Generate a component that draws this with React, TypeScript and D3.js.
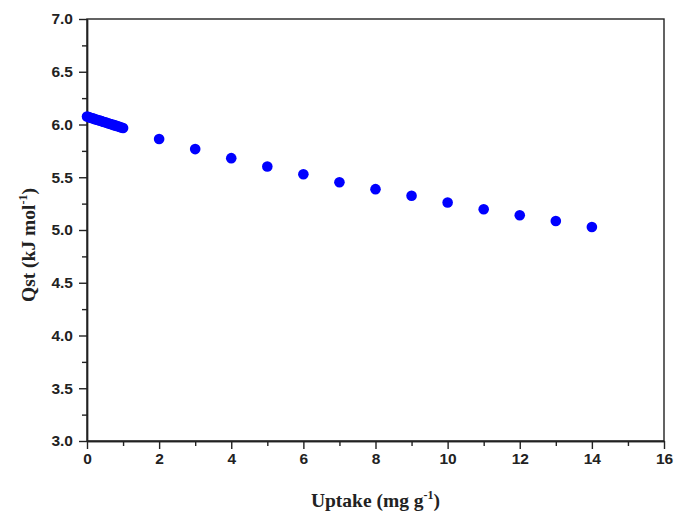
import React, { useEffect, useRef } from "react";
import { select, scaleLinear, axisBottom, axisLeft, range } from "d3";

const lowUptake = [
  0, 0.05, 0.1, 0.15, 0.2, 0.25, 0.3, 0.35, 0.4, 0.45, 0.5, 0.55, 0.6, 0.65,
  0.7, 0.75, 0.8, 0.85, 0.9, 0.95, 1.0,
];
const lowQst = [
  6.075, 6.07, 6.064, 6.059, 6.053, 6.048, 6.043, 6.037, 6.032, 6.026, 6.021,
  6.016, 6.01, 6.005, 5.999, 5.994, 5.989, 5.983, 5.978, 5.972, 5.967,
];
// the spaced out points
const highUptake = [2, 3, 4, 5, 6, 7, 8, 9, 10, 11, 12, 13, 14];
const highQst = [
  5.862, 5.767, 5.681, 5.602, 5.529, 5.453, 5.387, 5.324, 5.26, 5.197, 5.14,
  5.086, 5.029,
];

const xTicks = [0, 2, 4, 6, 8, 10, 12, 14, 16];
const yTicks = [3.0, 3.5, 4.0, 4.5, 5.0, 5.5, 6.0, 6.5, 7.0];

const W = 676;
const H = 518;
const margin = { left: 87, right: 12, top: 19, bottom: 77 };

function QstChart() {
  const svgRef = useRef(null);

  useEffect(() => {
    const svg = select(svgRef.current);
    svg.selectAll("*").remove();

    const x = scaleLinear()
      .domain([0, 16])
      .range([margin.left, W - margin.right]);
    const y = scaleLinear()
      .domain([3, 7])
      .range([H - margin.bottom, margin.top]);

    const points = [
      ...lowUptake.map((u, i) => ({ u, q: lowQst[i] })),
      ...highUptake.map((u, i) => ({ u, q: highQst[i] })),
    ];

    // frame top + right
    svg
      .append("rect")
      .attr("x", x(0))
      .attr("y", y(7))
      .attr("width", x(16) - x(0))
      .attr("height", y(3) - y(7))
      .attr("fill", "none")
      .attr("stroke", "#222")
      .attr("stroke-width", 1.4);

    // minor ticks first, then the major axis on top
    const xMinor = axisBottom(x)
      .tickValues(range(1, 16, 2))
      .tickSize(5)
      .tickSizeOuter(0)
      .tickFormat(() => "");
    svg
      .append("g")
      .attr("transform", `translate(0, ${y(3)})`)
      .call(xMinor);

    const yMinor = axisLeft(y)
      .tickValues(range(3.25, 7, 0.5))
      .tickSize(5)
      .tickSizeOuter(0)
      .tickFormat(() => "");
    svg
      .append("g")
      .attr("transform", `translate(${x(0)}, 0)`)
      .call(yMinor);

    const xAxis = axisBottom(x)
      .tickValues(xTicks)
      .tickSize(8)
      .tickSizeOuter(0)
      .tickPadding(4)
      .tickFormat((d) => String(d));
    svg
      .append("g")
      .attr("class", "x-axis")
      .attr("transform", `translate(0, ${y(3)})`)
      .call(xAxis);

    const yAxis = axisLeft(y)
      .tickValues(yTicks)
      .tickSize(8)
      .tickSizeOuter(0)
      .tickPadding(6)
      .tickFormat((d) => d.toFixed(1));
    svg
      .append("g")
      .attr("class", "y-axis")
      .attr("transform", `translate(${x(0)}, 0)`)
      .call(yAxis);

    svg
      .selectAll(".domain, .tick line")
      .attr("stroke", "#222")
      .attr("stroke-width", 1.4);
    svg
      .selectAll(".tick text")
      .attr("font-family", "'Liberation Sans', Arial, sans-serif")
      .attr("font-weight", "bold")
      .attr("font-size", 15.5)
      .attr("fill", "#222");

    // dots
    svg
      .append("g")
      .selectAll("circle")
      .data(points)
      .join("circle")
      .attr("cx", (d) => x(d.u))
      .attr("cy", (d) => y(d.q))
      .attr("r", 5.3)
      .attr("fill", "#0000ff");

    // axis titles
    const titleFont = "'Liberation Serif', 'Times New Roman', serif";
    const xt = svg
      .append("text")
      .attr("x", (x(0) + x(16)) / 2)
      .attr("y", 507)
      .attr("text-anchor", "middle")
      .attr("font-family", titleFont)
      .attr("font-weight", "bold")
      .attr("font-size", 19.5)
      .attr("fill", "#222");
    xt.append("tspan").text("Uptake (mg g");
    xt.append("tspan").attr("font-size", 12).attr("dy", -8).text("-1");
    xt.append("tspan").attr("dy", 8).text(")");

    const yt = svg
      .append("text")
      .attr("transform", `translate(35, ${(y(3) + y(7)) / 2 + 15}) rotate(-90)`)
      .attr("text-anchor", "middle")
      .attr("font-family", titleFont)
      .attr("font-weight", "bold")
      .attr("font-size", 19.5)
      .attr("fill", "#222");
    yt.append("tspan").text("Qst (kJ mol");
    yt.append("tspan").attr("font-size", 12).attr("dy", -8).text("-1");
    yt.append("tspan").attr("dy", 8).text(")");
  }, []);

  return (
    <svg
      ref={svgRef}
      width={W}
      height={H}
      style={{ position: "absolute", left: 0, top: 0, background: "#fff" }}
    />
  );
}

export default function App() {
  return <QstChart />;
}
